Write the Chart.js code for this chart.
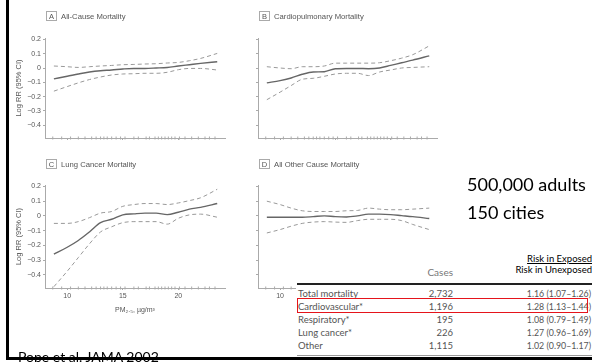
<!DOCTYPE html>
<html>
<head>
<meta charset="utf-8">
<script src="https://cdn.jsdelivr.net/npm/chart.js@4.4.0/dist/chart.umd.min.js"></script>
<style>
  body { margin: 0; background: #fff; }
  #slide { position: relative; width: 592px; height: 362px; overflow: hidden; background: #fff; font-family: 'Liberation Sans', Arial, sans-serif; }
  canvas { position: absolute; left: 0; top: 0; }
  .abs { position: absolute; white-space: nowrap; }
  .ptitle { font-size: 7.7px; color: #555; line-height: 10px; }
  .ptitle span { display: inline-block; width: 11px; height: 10px; border: 1px solid #aaa; box-sizing: border-box; text-align: center; font-size: 7.5px; line-height: 9px; margin-right: 4px; color: #555; }
  .slidetext { font-family: Lato, 'Liberation Sans', sans-serif; color: #000; }
  #table { position: absolute; left: 296px; top: 250px; width: 296px; height: 107px; background: #fff; font-family: Lato, 'Liberation Sans', sans-serif; }
  .cell { position: absolute; white-space: nowrap; line-height: 12px; color: #555; }
</style>
</head>
<body>
<div id="slide">
  <canvas id="panelA" width="592" height="362"></canvas>
  <canvas id="panelB" width="592" height="362"></canvas>
  <canvas id="panelC" width="592" height="362"></canvas>
  <canvas id="panelD" width="592" height="362"></canvas>

  <div class="abs ptitle" style="left:46px; top:11px;"><span>A</span>All-Cause Mortality</div>
  <div class="abs ptitle" style="left:259px; top:11px;"><span>B</span>Cardiopulmonary Mortality</div>
  <div class="abs ptitle" style="left:46px; top:159px;"><span>C</span>Lung Cancer Mortality</div>
  <div class="abs ptitle" style="left:259px; top:159px;"><span>D</span>All Other Cause Mortality</div>

  <div class="abs slidetext" style="left:467px; top:173px; font-size:18px;">500,000 adults</div>
  <div class="abs slidetext" style="left:467px; top:201px; font-size:18px;">150 cities</div>

  <div id="table"></div>

  <div class="abs slidetext" style="left:18px; top:348px; font-size:14px;">Pope et al. JAMA 2002</div>
  <div class="abs" style="left:6px; top:0; width:3px; height:360px; background:#000;"></div>
  <div class="abs" style="left:6px; top:357px; width:586px; height:3px; background:#000;"></div>
</div>

<script>
const pmValues = [8.8, 10, 11, 12, 13, 14, 15, 16, 17, 18, 19, 20, 21, 22, 23.5];
const xTickValues = [10, 15, 20];
const yTickValues = [-0.4, -0.3, -0.2, -0.1, 0, 0.1, 0.2];
const yTickLabels = ['\u22120.4', '\u22120.3', '\u22120.2', '\u22120.1', '0', '0.1', '0.2'];

// A All-Cause Mortality
const allCauseFit = [-0.076, -0.058, -0.042, -0.028, -0.019, -0.014, -0.007, -0.003, -0.003, 0.0, 0.004, 0.014, 0.023, 0.032, 0.044];
const allCauseUpper = [0.014, 0.009, 0.004, 0.009, 0.014, 0.018, 0.023, 0.025, 0.028, 0.030, 0.035, 0.039, 0.051, 0.067, 0.102];
const allCauseLower = [-0.162, -0.130, -0.104, -0.081, -0.063, -0.049, -0.042, -0.040, -0.037, -0.037, -0.030, -0.012, -0.003, -0.003, -0.014];

// B Cardiopulmonary Mortality
const cardioFit = [-0.104, -0.088, -0.070, -0.044, -0.028, -0.026, -0.005, -0.003, -0.003, -0.005, 0.0, 0.018, 0.037, 0.055, 0.085];
const cardioUpper = [0.009, 0.0, -0.005, 0.009, 0.009, 0.014, 0.034, 0.034, 0.034, 0.034, 0.037, 0.051, 0.069, 0.093, 0.155];
const cardioLower = [-0.222, -0.169, -0.123, -0.079, -0.072, -0.058, -0.042, -0.037, -0.037, -0.053, -0.028, -0.014, 0.0, 0.004, 0.009];

// C Lung Cancer Mortality
const lungFit = [-0.260, -0.213, -0.167, -0.109, -0.046, -0.023, 0.007, 0.014, 0.019, 0.019, 0.009, 0.025, 0.046, 0.058, 0.084];
const lungUpper = [-0.051, -0.051, -0.039, -0.012, 0.019, 0.030, 0.065, 0.077, 0.084, 0.084, 0.077, 0.088, 0.104, 0.123, 0.181];
const lungLower = [-0.481, -0.376, -0.283, -0.190, -0.109, -0.074, -0.046, -0.039, -0.039, -0.039, -0.056, -0.016, 0.007, 0.012, -0.009];

// D All Other Cause Mortality
const otherFit = [-0.009, -0.009, -0.009, -0.009, -0.005, 0.0, -0.005, -0.007, 0.0, 0.012, 0.012, 0.009, 0.002, -0.005, -0.018];
const otherUpper = [0.100, 0.077, 0.053, 0.035, 0.030, 0.030, 0.030, 0.035, 0.037, 0.053, 0.046, 0.042, 0.042, 0.046, 0.053];
const otherLower = [-0.116, -0.093, -0.070, -0.051, -0.042, -0.039, -0.042, -0.044, -0.032, -0.023, -0.023, -0.023, -0.032, -0.058, -0.093];

// city PM2.5 levels shown as the rug along the x axis
const rugPm = [8.7, 9.5, 10.3, 11, 11.6, 12.2, 12.6, 13, 13.3, 13.6, 14, 14.4, 14.8, 15.2, 16, 16.4, 17.1, 17.4, 17.9, 18.2, 18.5, 18.8, 19.1, 19.4, 19.7, 20.1, 20.6, 21.2, 21.8, 22.4, 22.8, 23.3];

// table
const tableCauses = ['Total mortality', 'Cardiovascular*', 'Respiratory*', 'Lung cancer*', 'Other'];
const tableCases = ['2,732', '1,196', '195', '226', '1,115'];
const tableRisk = ['1.16 (1.07\u20131.26)', '1.28 (1.13\u20131.44)', '1.08 (0.79\u20131.49)', '1.27 (0.96\u20131.69)', '1.02 (0.90\u20131.17)'];

Chart.defaults.font.family = "'Liberation Sans', Arial, sans-serif";
const yMin = -0.49, yMax = 0.21;

function toPoints(values) {
  return pmValues.map((x, i) => ({ x: x, y: values[i] }));
}

// box = chart area in page pixels
function makePanel(id, fit, upper, lower, box, yLabels, xLabels, xTitle) {
  const yWidth = yLabels ? 35 : 10;
  let xHeight = 4;
  if (xLabels) xHeight = 18;
  if (xTitle) xHeight = 30;

  const dashed = { borderColor: '#999', borderWidth: 1, borderDash: [4, 3], pointRadius: 0, cubicInterpolationMode: 'monotone' };

  new Chart(document.getElementById(id), {
    type: 'line',
    data: {
      datasets: [
        { data: toPoints(fit), borderColor: '#666', borderWidth: 1.4, pointRadius: 0, cubicInterpolationMode: 'monotone' },
        Object.assign({ data: toPoints(upper) }, dashed),
        Object.assign({ data: toPoints(lower) }, dashed),
        { type: 'scatter', data: rugPm.map(x => ({ x: x, y: yMin })), pointStyle: 'line', rotation: 90, radius: 1.5, borderColor: '#aaa', borderWidth: 1, clip: false }
      ]
    },
    options: {
      responsive: false,
      animation: false,
      layout: { padding: { left: box.left - yWidth, top: box.top, right: 592 - box.right, bottom: 362 - box.bottom - xHeight } },
      plugins: { legend: { display: false }, tooltip: { enabled: false } },
      scales: {
        x: {
          type: 'linear', min: 8, max: 24.2,
          afterBuildTicks: s => { s.ticks = xTickValues.map(v => ({ value: v })); },
          afterFit: s => { s.height = xHeight; },
          border: { color: '#aaa' },
          grid: { drawOnChartArea: false, tickLength: 2, color: '#aaa' },
          ticks: { display: xLabels, font: { size: 7 }, color: '#555', padding: 2, maxRotation: 0 },
          title: { display: !!xTitle, text: xTitle || '', font: { size: 7 }, color: '#555', padding: { top: 2, bottom: 4 } }
        },
        y: {
          type: 'linear', min: yMin, max: yMax,
          afterBuildTicks: s => { s.ticks = yTickValues.map(v => ({ value: v })); },
          afterFit: s => { s.width = yWidth; },
          border: { color: '#aaa' },
          grid: { drawOnChartArea: false, tickLength: 2, color: '#aaa' },
          ticks: { display: yLabels, font: { size: 7 }, color: '#555', padding: 2, callback: v => yTickLabels[yTickValues.indexOf(v)] },
          title: { display: yLabels, text: 'Log RR (95% CI)', font: { size: 7.5 }, color: '#555', padding: { top: 4, bottom: 2 } }
        }
      }
    }
  });
}

makePanel('panelA', allCauseFit, allCauseUpper, allCauseLower, { left: 45, right: 225, top: 38, bottom: 138 }, true, false, null);
makePanel('panelB', cardioFit, cardioUpper, cardioLower, { left: 258, right: 437, top: 38, bottom: 138 }, false, false, null);
makePanel('panelC', lungFit, lungUpper, lungLower, { left: 45, right: 225, top: 185, bottom: 288 }, true, true, 'PM\u2082.\u2085, \u00b5g/m\u00b3');
makePanel('panelD', otherFit, otherUpper, otherLower, { left: 258, right: 437, top: 185, bottom: 288 }, false, true, null);

// table next to panel D
const table = document.getElementById('table');
function addCell(text, css) {
  const d = document.createElement('div');
  d.className = 'cell';
  d.textContent = text;
  d.style.cssText += css;
  table.appendChild(d);
  return d;
}
addCell('Risk in Exposed', 'right:0; top:3px; font-size:9.5px; color:#000; text-decoration:underline;');
addCell('Risk in Unexposed', 'right:0; top:14px; font-size:9.5px; color:#000;');
addCell('Cases', 'right:139px; top:16px; font-size:10px; color:#777;');
addCell('', 'left:1px; top:33px; width:295px; height:1.5px; background:#222;');
for (let i = 0; i < tableCauses.length; i++) {
  const top = 38 + i * 12.9;
  addCell(tableCauses[i], 'left:2px; top:' + top + 'px; font-size:9.5px;');
  addCell(tableCases[i], 'right:139px; top:' + top + 'px; font-size:9.5px;');
  addCell(tableRisk[i], 'right:1px; top:' + top + 'px; font-size:8.8px;');
}
addCell('', 'left:1px; top:104.5px; width:295px; height:1px; background:#999;');
addCell('', 'left:1px; top:48px; width:291px; height:15px; border:1.5px solid #e5141b; box-sizing:border-box;');
</script>
</body>
</html>
